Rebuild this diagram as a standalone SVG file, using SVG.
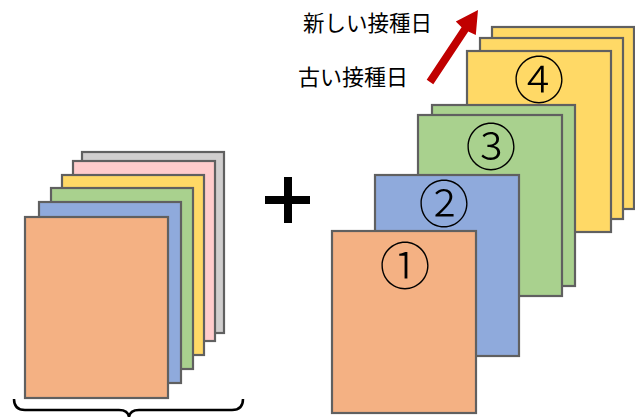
<svg xmlns="http://www.w3.org/2000/svg" width="635" height="417" viewBox="0 0 635 417">
<style>
.card{stroke:#606060;stroke-width:2.2}
.o{fill:#F4B183}.b{fill:#8FAADC}.g{fill:#A9D18E}.y{fill:#FFD966}.p{fill:#FFCCCC}.gr{fill:#D0CECE}
.num{font-family:"Noto Sans CJK JP","Noto Sans",sans-serif;font-size:51px;font-weight:300;text-anchor:middle;fill:#000}
.lbl{font-family:"Noto Sans CJK JP","Noto Sans",sans-serif;fill:#000}
</style>
<rect width="635" height="417" fill="#fff"/>
<g id="left-stack">
<rect class="card gr" x="82" y="152" width="142" height="181"/>
<rect class="card p" x="73" y="161" width="142" height="180"/>
<rect class="card y" x="62" y="175" width="142" height="180"/>
<rect class="card g" x="51" y="188" width="142" height="181"/>
<rect class="card b" x="39" y="202" width="142" height="181"/>
<rect class="card o" x="25" y="217" width="143" height="181"/>
</g>
<g id="brace">
<path d="M14,399 Q14,410 25,410 L119,410 Q128,410 129,417 Q130,410 139,410 L232,410 Q243,410 243,399" fill="none" stroke="#000" stroke-width="2.5"/>
</g>
<g id="plus">
<rect x="284" y="177" width="8" height="46" fill="#000"/>
<rect x="265" y="196" width="45" height="8" fill="#000"/>
</g>
<g id="card4">
<rect class="card y" x="492" y="27" width="142" height="182"/>
<rect class="card y" x="480" y="38" width="143" height="181"/>
<rect class="card y" x="467" y="51" width="144" height="181"/>
<text class="num" x="539" y="99">④</text>
</g>
<g id="card3">
<rect class="card g" x="432" y="105" width="143" height="181"/>
<rect class="card g" x="418" y="115" width="144" height="181"/>
<text class="num" x="491" y="166">③</text>
</g>
<g id="card2">
<rect class="card b" x="375" y="175" width="144" height="181"/>
<text class="num" x="444" y="223">②</text>
</g>
<g id="card1">
<rect class="card o" x="332" y="231" width="144" height="182"/>
<text class="num" x="405" y="285">①</text>
</g>
<g id="connectors">
<polygon points="433.3,84.2 426.7,79.8 461.6,27.2 455.8,21.6 478,10 475.8,35 468.3,31.6" fill="#C00000"/>
</g>
<g id="labels">
<text class="lbl" x="303" y="31" font-size="21.5">新しい接種日</text>
<text class="lbl" x="298" y="85" font-size="22">古い接種日</text>
</g>
</svg>
